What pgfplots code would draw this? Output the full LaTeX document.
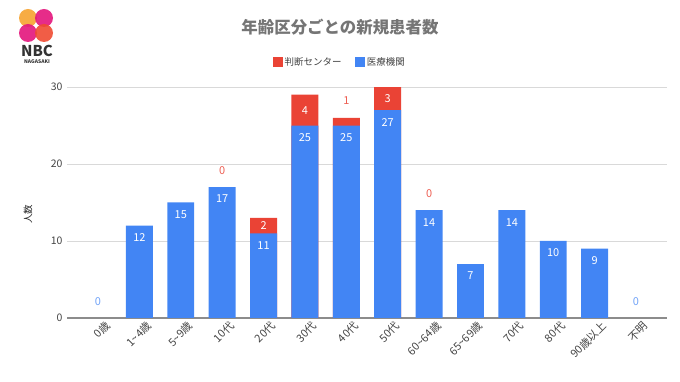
\documentclass[border=0pt]{standalone}
\usepackage{fontspec}
\setmainfont{Noto Sans CJK JP}
\usepackage{pgfplots}
\usepackage{pgfplotstable}
\pgfplotsset{compat=1.18}
\definecolor{cred}{HTML}{EA4335}
\definecolor{cblue}{HTML}{4285F4}
\definecolor{ctitle}{HTML}{757575}
\definecolor{ctick}{HTML}{444444}
\definecolor{cgrid}{HTML}{D9D9D9}
\definecolor{caxis}{HTML}{8C8C8C}
\definecolor{lgA}{HTML}{F7A83A}
\definecolor{lgB}{HTML}{E3157C}
\definecolor{lgC}{HTML}{EF4B32}
\pgfplotstableread{
x y l
1 10.45 12
2 13.45 15
3 15.45 17
4 9.45 11
5 23.45 25
6 23.45 25
7 25.45 27
8 12.45 14
9 5.45 7
10 12.45 14
11 8.45 10
12 7.45 9
4 12 2
5 27 4
7 28.5 3
}\whitelabels
\pgfplotstableread{
x y l
3 19.2 0
6 28.2 1
8 16.1 0
}\redlabels
\pgfplotstableread{
x y l
0 2.1 0
13 2.1 0
}\bluelabels
\begin{document}
\begin{tikzpicture}
\useasboundingbox (0,0) rectangle (680bp,382bp);
% logo
\fill[lgA, fill opacity=0.95] (28bp,364bp) circle (9bp);
\fill[lgB, fill opacity=0.9] (44bp,364bp) circle (9bp);
\fill[lgB, fill opacity=0.9] (28bp,349bp) circle (9bp);
\fill[lgC, fill opacity=0.9] (44bp,349bp) circle (9bp);
\node[font=\fontsize{15}{15}\selectfont\bfseries, text=black!80, inner sep=0] at (37bp,331bp) {NBC};
\node[font=\fontsize{5}{5}\selectfont\bfseries, text=black!80, inner sep=0] at (37bp,320bp) {NAGASAKI};
\begin{axis}[
  scale only axis,
  width=600bp, height=231bp,
  at={(67bp,64bp)}, anchor=south west,
  xmin=-0.75, xmax=13.75,
  ymin=0, ymax=30,
  axis line style={draw=none},
  major tick length=0pt,
  xtick={0,...,13},
  xticklabels={0歳,1\textasciitilde 4歳,5\textasciitilde 9歳,10代,20代,30代,40代,50代,60\textasciitilde 64歳,65\textasciitilde 69歳,70代,80代,90歳以上,不明},
  xticklabel style={rotate=45, anchor=north east, font=\fontsize{11}{11}\selectfont, text=ctick, xshift=4bp, yshift=-5bp, inner sep=1bp},
  ytick={10,20,30},
  extra y ticks={0},
  extra y tick style={ymajorgrids=true, major grid style={draw=caxis, line width=1.3bp}},
  ymajorgrids,
  major grid style={draw=cgrid, line width=0.8bp},
  yticklabel style={font=\fontsize{10.5}{10.5}\selectfont, text=ctick, xshift=-1bp},
  /pgf/number format/assume math mode=true,
  ylabel={人数},
  ylabel style={at={(axis description cs:-0.065,0.45)}, anchor=center, font=\fontsize{9.5}{9.5}\selectfont, text=black!85},
  title={\textbf{年齢区分ごとの新規患者数}},
  title style={at={(axis description cs:0.455,1.234)}, anchor=center, font=\fontsize{16.5}{16.5}\selectfont, text=ctitle},
  legend columns=2,
  legend style={at={(axis description cs:0.455,1.108)}, anchor=center, draw=none, fill=none,
    font=\fontsize{9.5}{9.5}\selectfont, text=black!75,
    /tikz/every even column/.append style={column sep=12bp}},
  legend image code/.code={\fill[#1] (-1bp,-4.5bp) rectangle (8.5bp,5bp);},
]
\addplot[ybar, bar width=0.65, bar shift=0pt, fill=cred, draw=none] coordinates {(4,13) (5,29) (6,26) (7,30)};
\addlegendentry{判断センター}
\addplot[ybar, bar width=0.65, bar shift=0pt, fill=cblue, draw=none] coordinates {(1,12) (2,15) (3,17) (4,11) (5,25) (6,25) (7,27) (8,14) (9,7) (10,14) (11,10) (12,9)};
\addlegendentry{医療機関}
\addplot[forget plot, draw=none, mark=none, nodes near coords, point meta=explicit symbolic,
  nodes near coords style={anchor=center, text=white, font=\fontsize{11}{11}\selectfont}]
  table[x=x, y=y, meta=l] {\whitelabels};
\addplot[forget plot, draw=none, mark=none, nodes near coords, point meta=explicit symbolic,
  nodes near coords style={anchor=center, text=cred!85, font=\fontsize{11}{11}\selectfont}]
  table[x=x, y=y, meta=l] {\redlabels};
\addplot[forget plot, draw=none, mark=none, nodes near coords, point meta=explicit symbolic,
  nodes near coords style={anchor=center, text=cblue!75, font=\fontsize{11}{11}\selectfont}]
  table[x=x, y=y, meta=l] {\bluelabels};
\end{axis}
\end{tikzpicture}
\end{document}
